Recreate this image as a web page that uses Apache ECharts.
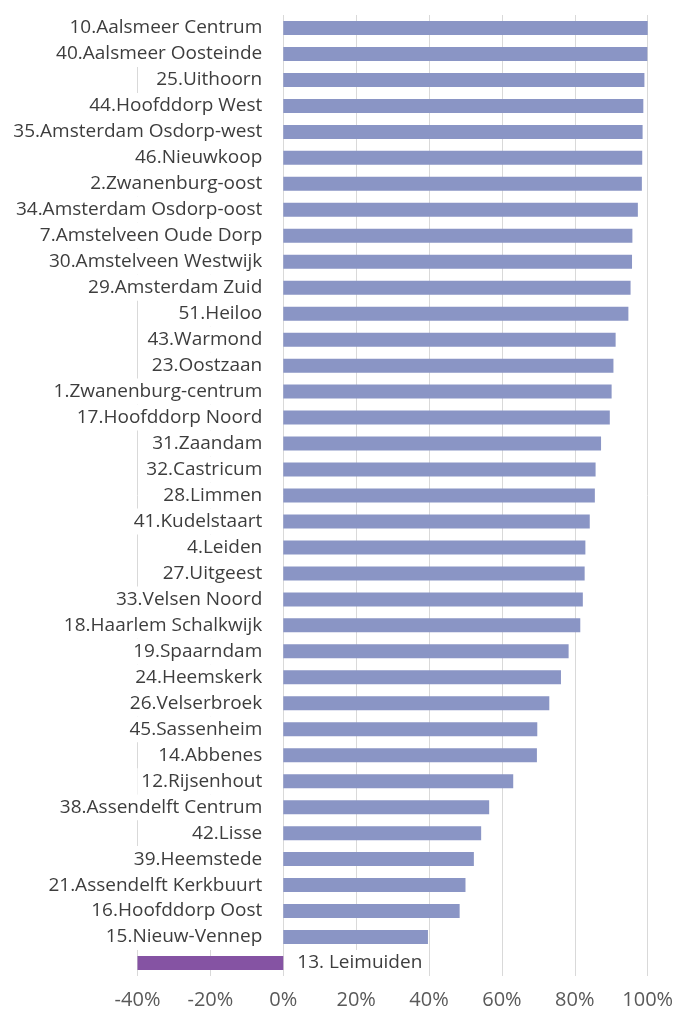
<!DOCTYPE html>
<html>
<head>
<meta charset="utf-8">
<script src="https://cdn.jsdelivr.net/npm/echarts@6/dist/echarts.min.js"></script>
<style>
html,body{margin:0;padding:0;background:#fff;}
#chart{width:678px;height:1014px;}
</style>
</head>
<body>
<div id="chart"></div>
<script>
const categories = [
  "10.Aalsmeer Centrum","40.Aalsmeer Oosteinde","25.Uithoorn","44.Hoofddorp West",
  "35.Amsterdam Osdorp-west","46.Nieuwkoop","2.Zwanenburg-oost","34.Amsterdam Osdorp-oost",
  "7.Amstelveen Oude Dorp","30.Amstelveen Westwijk","29.Amsterdam Zuid","51.Heiloo",
  "43.Warmond","23.Oostzaan","1.Zwanenburg-centrum","17.Hoofddorp Noord",
  "31.Zaandam","32.Castricum","28.Limmen","41.Kudelstaart",
  "4.Leiden","27.Uitgeest","33.Velsen Noord","18.Haarlem Schalkwijk",
  "19.Spaarndam","24.Heemskerk","26.Velserbroek","45.Sassenheim",
  "14.Abbenes","12.Rijsenhout","38.Assendelft Centrum","42.Lisse",
  "39.Heemstede","21.Assendelft Kerkbuurt","16.Hoofddorp Oost","15.Nieuw-Vennep",
  "13. Leimuiden"
];
const values = [
  100, 99.9, 99.1, 98.8,
  98.6, 98.5, 98.4, 97.3,
  95.8, 95.7, 95.3, 94.7,
  91.2, 90.6, 90.1, 89.6,
  87.2, 85.7, 85.5, 84.1,
  82.9, 82.7, 82.2, 81.5,
  78.3, 76.2, 73.0, 69.7,
  69.6, 63.1, 56.5, 54.3,
  52.3, 50.0, 48.4, 39.7,
  -40
];
const xTicks = [-40, -20, 0, 20, 40, 60, 80, 100];

const FONT = "'Open Sans', sans-serif";
const chart = echarts.init(document.getElementById('chart'), null, {renderer: 'canvas'});
const data = values.map((v, i) => ({
  value: v,
  itemStyle: { color: v < 0 ? '#8553a3' : '#8a95c5' },
  label: v < 0
    ? { position: 'right', distance: 12, padding: [0, 4, 0, 2] }
    : { position: 'left', distance: 19, padding: [0, 2, 0, 4] }
}));
chart.setOption({
  animation: false,
  grid: { left: 137.5, right: 30.3, top: 15, bottom: 38, containLabel: false },
  xAxis: {
    type: 'value', min: xTicks[0], max: xTicks[xTicks.length - 1], interval: 20,
    axisLine: { show: false }, axisTick: { show: false },
    splitLine: { show: true, lineStyle: { color: '#d9d9d9', width: 1 } },
    axisLabel: { formatter: '{value}%', color: '#595959', fontSize: 20, fontFamily: FONT, margin: 14 }
  },
  yAxis: {
    type: 'category', data: categories, inverse: true,
    axisLine: { show: false }, axisTick: { show: false }, axisLabel: { show: false },
    splitLine: { show: false }
  },
  series: [{
    type: 'bar', data: data, barWidth: 14,
    label: {
      show: true,
      formatter: p => categories[p.dataIndex],
      color: '#3d3d3d', fontSize: 19, fontFamily: FONT,
      backgroundColor: '#fff', lineHeight: 26
    }
  }]
});
</script>
</body>
</html>
